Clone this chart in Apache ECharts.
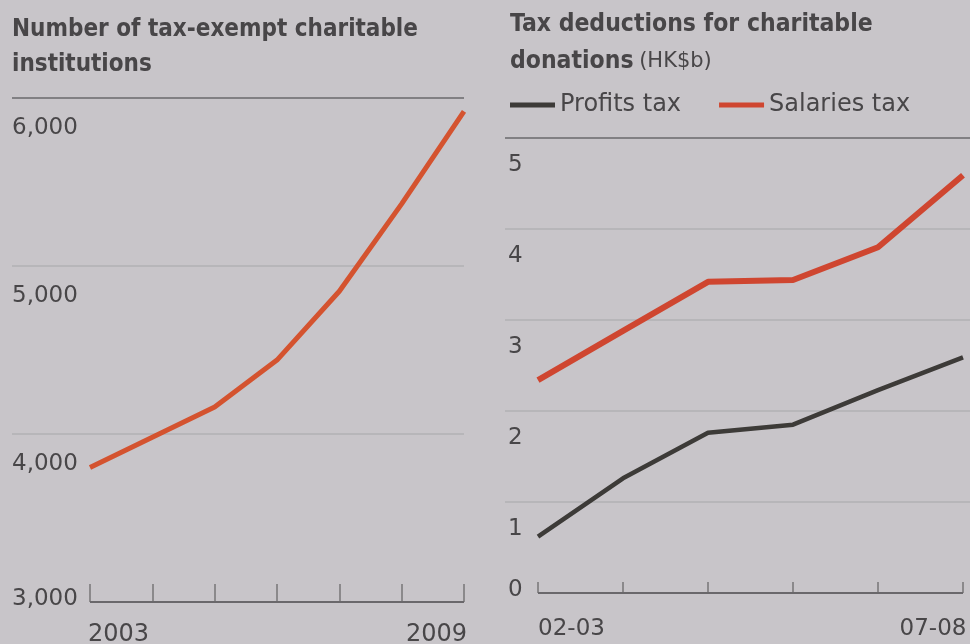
<!DOCTYPE html>
<html>
<head>
<meta charset="utf-8">
<script src="https://cdn.jsdelivr.net/npm/echarts@6/dist/echarts.min.js"></script>
<style>
html,body{margin:0;padding:0;background:#c8c5c9;}
#chart{width:970px;height:644px;}
</style>
</head>
<body>
<div id="chart"></div>
<script>
// ---- data ----
const years = [2003, 2004, 2005, 2006, 2007, 2008, 2009];
const institutions = [3800, 3980, 4160, 4440, 4850, 5370, 5920];
const yearLabels = [2003, 2009];
const instTicks = [3000, 4000, 5000, 6000];

const fiscalYears = ['02-03', '03-04', '04-05', '05-06', '06-07', '07-08'];
const profitsTax = [0.62, 1.26, 1.76, 1.85, 2.23, 2.59];
const salariesTax = [2.34, 2.88, 3.42, 3.44, 3.80, 4.59];
const fiscalLabels = ['02-03', '07-08'];
const deductionTicks = [0, 1, 2, 3, 4, 5];

// ---- styles ----
const FONT = '"DejaVu Sans", sans-serif';
const TFONT = '"DejaVu Sans Condensed", "DejaVu Sans", sans-serif';
const TXT = '#484648';
const FAINT = '#b2b0b3';
const RULE = '#6a686b';
const RED = '#cf4630';
const DARK = '#3d3b38';

const fmtThousands = v => String(v).replace(/\B(?=(\d{3})+(?!\d))/g, ',');

const chart = echarts.init(document.getElementById('chart'));

const fiscalIdx = fiscalLabels.map(l => fiscalYears.indexOf(l));

chart.setOption({
  backgroundColor: '#c8c5c9',
  animation: false,
  title: [
    {
      text: 'Number of tax-exempt charitable\ninstitutions',
      left: 7, top: 7,
      textStyle: {fontFamily: TFONT, fontSize: 24, fontWeight: 'bold', color: TXT, lineHeight: 35}
    },
    {
      text: '{b|Tax deductions for charitable}\n{b|donations} {r|(HK$b)}',
      left: 505, top: 1,
      textStyle: {
        fontFamily: TFONT, color: TXT,
        rich: {
          b: {fontFamily: TFONT, fontSize: 24.5, fontWeight: 'bold', color: TXT, lineHeight: 37},
          r: {fontFamily: FONT, fontSize: 21, fontWeight: 'normal', color: TXT, lineHeight: 37}
        }
      }
    }
  ],
  legend: {
    data: ['Profits tax', 'Salaries tax'],
    left: 505, top: 88,
    icon: 'rect', itemWidth: 45, itemHeight: 5, itemGap: 38,
    textStyle: {fontFamily: FONT, fontSize: 24, color: TXT, padding: [0, 0, 0, 0]}
  },
  grid: [
    {left: 12, top: 98, width: 452, bottom: 42, outerBoundsMode: 'none', containLabel: false},
    {left: 505, top: 138, width: 465, bottom: 51, outerBoundsMode: 'none', containLabel: false}
  ],
  xAxis: [
    {
      type: 'value', gridIndex: 0,
      min: 2003 - 78 / 62.33, max: 2009,
      axisLine: {show: false},
      splitLine: {show: false},
      axisTick: {show: true, inside: true, length: 18, customValues: years,
        lineStyle: {color: '#777577', width: 1.5}},
      axisLabel: {
        customValues: yearLabels, margin: 21,
        formatter: v => v === yearLabels[0] ? '{l|' + v + '}' : '{r|' + v + '}',
        rich: {
          l: {fontFamily: FONT, fontSize: 24, color: TXT, padding: [0, 0, 0, 57]},
          r: {fontFamily: FONT, fontSize: 24, color: TXT, padding: [0, 55, 0, 0]}
        }
      }
    },
    {
      type: 'value', gridIndex: 1,
      min: -33 / 85, max: 5 + 7 / 85,
      axisLine: {show: false},
      splitLine: {show: false},
      axisTick: {show: true, inside: true, length: 11, customValues: fiscalYears.map((c, i) => i),
        lineStyle: {color: '#777577', width: 1.5}},
      axisLabel: {
        customValues: fiscalIdx, margin: 25,
        formatter: v => v === fiscalIdx[0] ? '{l|' + fiscalYears[v] + '}' : '{r|' + fiscalYears[v] + '}',
        rich: {
          l: {fontFamily: FONT, fontSize: 23, color: TXT, padding: [0, 0, 0, 67]},
          r: {fontFamily: FONT, fontSize: 23, color: TXT, padding: [0, 60, 0, 0]}
        }
      }
    }
  ],
  yAxis: [
    {
      type: 'value', gridIndex: 0,
      min: instTicks[0], max: instTicks[instTicks.length - 1], interval: 1000,
      axisLine: {show: false}, axisTick: {show: false},
      splitLine: {show: true, lineStyle: {color: ['rgba(0,0,0,0)', FAINT, FAINT, RULE], width: 1.5}},
      axisLabel: {
        inside: true, margin: 0, align: 'left',
        formatter: v => v === instTicks[0] ? '{b|' + fmtThousands(v) + '}' : '{a|' + fmtThousands(v) + '}',
        rich: {
          a: {fontFamily: FONT, fontSize: 23, color: TXT, padding: [61, 0, 0, 0]},
          b: {fontFamily: FONT, fontSize: 23, color: TXT, padding: [0, 0, 6, 0]}
        }
      }
    },
    {
      type: 'value', gridIndex: 1,
      min: deductionTicks[0], max: deductionTicks[deductionTicks.length - 1], interval: 1,
      axisLine: {show: false}, axisTick: {show: false},
      splitLine: {show: true, lineStyle: {color: ['rgba(0,0,0,0)', FAINT, FAINT, FAINT, FAINT, RULE], width: 1.5}},
      axisLabel: {
        inside: true, margin: 3, align: 'left',
        formatter: v => v === deductionTicks[0] ? '{b|' + v + '}' : '{a|' + v + '}',
        rich: {
          a: {fontFamily: FONT, fontSize: 23, color: TXT, padding: [54, 0, 0, 0]},
          b: {fontFamily: FONT, fontSize: 23, color: TXT, padding: [0, 0, 6, 0]}
        }
      }
    }
  ],
  series: [
    {
      name: 'Institutions', type: 'line', xAxisIndex: 0, yAxisIndex: 0,
      data: years.map((y, i) => [y, institutions[i]]),
      symbol: 'none', color: '#d4532f',
      lineStyle: {width: 5, color: '#d4532f'},
      markLine: {
        silent: true, symbol: 'none', label: {show: false},
        lineStyle: {type: 'solid', color: RULE, width: 2},
        data: [[{coord: [years[0], instTicks[0]]}, {coord: [years[years.length - 1], instTicks[0]]}]]
      }
    },
    {
      name: 'Profits tax', type: 'line', xAxisIndex: 1, yAxisIndex: 1,
      data: fiscalYears.map((c, i) => [i, profitsTax[i]]),
      symbol: 'none', color: DARK,
      lineStyle: {width: 4.5, color: DARK},
      markLine: {
        silent: true, symbol: 'none', label: {show: false},
        lineStyle: {type: 'solid', color: RULE, width: 2},
        data: [[{coord: [0, deductionTicks[0]]}, {coord: [fiscalYears.length - 1, deductionTicks[0]]}]]
      }
    },
    {
      name: 'Salaries tax', type: 'line', xAxisIndex: 1, yAxisIndex: 1,
      data: fiscalYears.map((c, i) => [i, salariesTax[i]]),
      symbol: 'none', color: RED,
      lineStyle: {width: 6, color: RED}
    }
  ]
});
</script>
</body>
</html>
